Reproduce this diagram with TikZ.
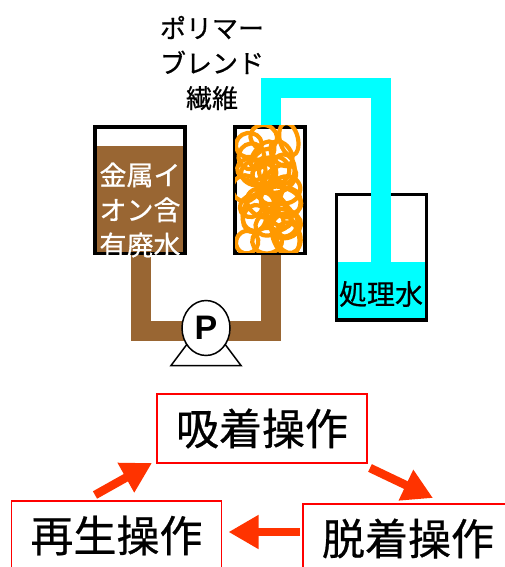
\documentclass[tikz,border=0pt]{standalone}
\usepackage{fontspec}
\setmainfont{Noto Sans CJK JP}[FakeBold=0.6]
\newfontfamily\latinsans{Liberation Sans}
\usetikzlibrary{arrows.meta,calc,shapes.geometric}
\definecolor{sludge}{HTML}{996633}
\definecolor{clean}{HTML}{00FFFF}
\definecolor{fiber}{HTML}{FF9900}
\definecolor{flow}{HTML}{FF3300}
\definecolor{opred}{HTML}{FF0000}
\begin{document}
\begin{tikzpicture}[x=1pt,y=-1pt,
  vessel/.style={draw=black, line width=3.5pt, inner sep=0pt, outer sep=0pt},
  jtext/.style={inner sep=0pt, align=center},
  opbox/.style={draw=opred, line width=1.3pt, minimum width=210pt, minimum height=69pt,
                inner sep=0pt, outer sep=0pt, font=\fontsize{43}{43}\selectfont},
  flowarrow/.style={draw=flow, line width=8.5pt, -{Triangle[width=32pt,length=30pt]}},
  pipe/.style={line width=20pt, line join=miter, line cap=butt},
]
\useasboundingbox (0,0) rectangle (505,567);
\clip (0,0) rectangle (505,567);

% liquid levels
\fill[sludge] (95,146) rectangle (185,254);
\fill[clean] (337,262) rectangle (426.6,320);

% vessels
\node[vessel, minimum width=90pt, minimum height=126.5pt] (waste) at (140,190) {};
\node[vessel, minimum width=90pt, minimum height=125.7pt] (treated) at (381.7,257.3) {};

% treated-water line from the column to the receiving tank
\draw[clean, pipe] (271,127) |- (381,88) -- (381,262);

% fibre column packed with tangled fibre loops
\node[vessel, minimum width=70pt, minimum height=126.5pt] (column) at (270,190) {};
\begin{scope}
  \clip (235,126) rectangle (309,252);
  \pgfmathsetseed{4}
  \foreach \row in {0,...,6}{
    \foreach \col in {0,1,2}{
      \pgfmathsetmacro{\cx}{250+17*\col+5*rand}
      \pgfmathsetmacro{\cy}{141+16.5*\row+5*rand}
      \pgfmathsetmacro{\ra}{11+6*rnd}
      \pgfmathsetmacro{\rb}{8+6*rnd}
      \pgfmathsetmacro{\rot}{180*rnd}
      \draw[fiber, line width=4.2pt, rotate around={\rot:(\cx,\cy)}]
        (\cx,\cy) ellipse [x radius=\ra, y radius=\rb];
    }
  }
  \foreach \k in {1,...,10}{
    \pgfmathsetmacro{\cx}{270+20*rand}
    \pgfmathsetmacro{\cy}{190+50*rand}
    \pgfmathsetmacro{\ra}{14+8*rnd}
    \pgfmathsetmacro{\rb}{9+6*rnd}
    \pgfmathsetmacro{\rot}{180*rnd}
    \draw[fiber, line width=4.2pt, rotate around={\rot:(\cx,\cy)}]
      (\cx,\cy) ellipse [x radius=\ra, y radius=\rb];
  }
\end{scope}

% feed line through the pump
\draw[sludge, pipe] (141,255) |- (271,331) -- (271,255);

% pump
\draw[black, line width=1.5pt, fill=white] (171,365.5) -- (206,319) -- (241,365.5) -- cycle;
\node[draw=black, line width=1.5pt, fill=white, ellipse, minimum width=48pt, minimum height=55pt,
      inner sep=0pt] (pump) at (206,328) {};
\node[font=\latinsans\bfseries\fontsize{34}{34}\selectfont] (plabel) at (206,328) {P};

% labels
\node[jtext, font=\fontsize{26}{35}\selectfont] (fibrelabel) at (212,63)
  {ポリマー\\ブレンド\\繊維};
\node[jtext, text=white, font=\fontsize{27}{35}\selectfont] (wastelabel) at (140,210)
  {金属イ\\オン含\\有廃水};
\node[jtext, font=\fontsize{28}{28}\selectfont] (treatedlabel) at (381,294) {処理水};

% operation cycle
\node[opbox] (adsorb) at (262,428.5) {吸着操作};
\node[opbox] (regen) at (116.5,535.5) {再生操作};
\node[opbox] (desorb) at (408,538.5) {脱着操作};

\draw[flowarrow] ([xshift=-21.5pt,yshift=6pt]regen.north) -- ([xshift=-5pt]adsorb.south west);
\draw[flowarrow] ([xshift=3pt,yshift=-5pt]adsorb.south east) -- ([xshift=25pt,yshift=6pt]desorb.north);
\draw[flowarrow] ([xshift=-3pt,yshift=6.5pt]desorb.west) -- ([xshift=7pt,yshift=3.5pt]regen.east);
\end{tikzpicture}
\end{document}
